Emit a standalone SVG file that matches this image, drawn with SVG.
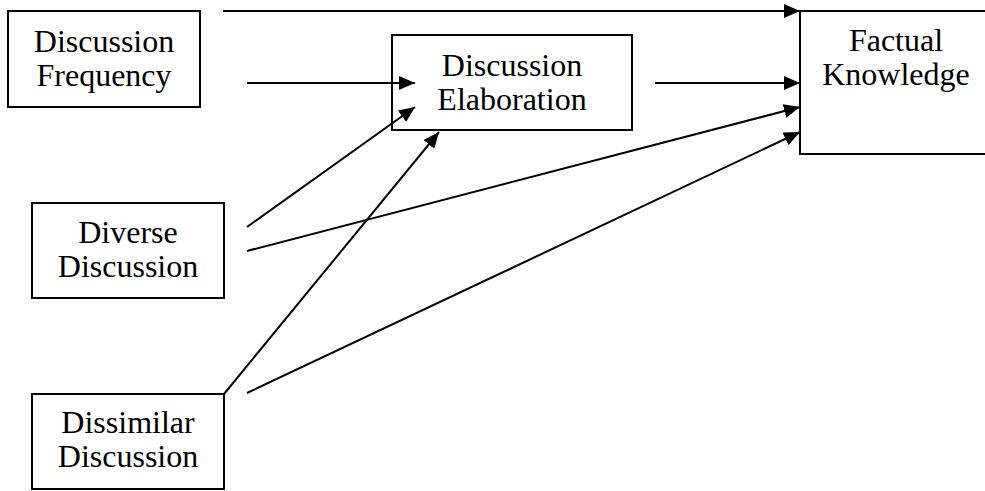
<svg xmlns="http://www.w3.org/2000/svg" width="985" height="491" viewBox="0 0 985 491">
  <style>
    .box { fill: #ffffff; stroke: #000000; stroke-width: 2; }
    .label { font-family: "Liberation Serif", "Times New Roman", serif; font-size: 32px; fill: #000000; text-anchor: middle; }
    .edge { stroke: #000000; stroke-width: 2; fill: none; marker-end: url(#head); }
  </style>
  <defs>
    <marker id="head" markerUnits="userSpaceOnUse" markerWidth="16" markerHeight="14" viewBox="0 0 16 14" refX="16" refY="7" orient="auto">
      <path d="M0,0 L16,7 L0,14 Z" fill="#000000"/>
    </marker>
  </defs>

  <rect width="985" height="491" fill="#ffffff"/>

  <g id="connectors">
    <line class="edge" x1="223" y1="11" x2="800" y2="11"/>
    <line class="edge" x1="247" y1="83" x2="415" y2="83"/>
    <line class="edge" x1="655" y1="83" x2="800" y2="83"/>
    <line class="edge" x1="247" y1="227" x2="415" y2="107"/>
    <line class="edge" x1="247" y1="251" x2="800" y2="107"/>
    <line class="edge" x1="224" y1="394" x2="439" y2="132"/>
    <line class="edge" x1="247" y1="393" x2="800" y2="132"/>
  </g>

  <g id="discussion-frequency">
    <rect class="box" x="8" y="11" width="192" height="96"/>
    <text class="label" x="104" y="52">Discussion</text>
    <text class="label" x="104" y="86">Frequency</text>
  </g>

  <g id="discussion-elaboration">
    <rect class="box" x="392" y="35" width="240" height="95" fill-opacity="0"/>
    <text class="label" x="512" y="76">Discussion</text>
    <text class="label" x="512" y="110">Elaboration</text>
  </g>

  <g id="factual-knowledge">
    <rect class="box" x="800" y="11" width="200" height="143" fill-opacity="0"/>
    <text class="label" x="896" y="51">Factual</text>
    <text class="label" x="896" y="85">Knowledge</text>
  </g>

  <g id="diverse-discussion">
    <rect class="box" x="32" y="203" width="192" height="95"/>
    <text class="label" x="128" y="243">Diverse</text>
    <text class="label" x="128" y="277">Discussion</text>
  </g>

  <g id="dissimilar-discussion">
    <rect class="box" x="32" y="394" width="192" height="95"/>
    <text class="label" x="128" y="433">Dissimilar</text>
    <text class="label" x="128" y="467">Discussion</text>
  </g>
</svg>
